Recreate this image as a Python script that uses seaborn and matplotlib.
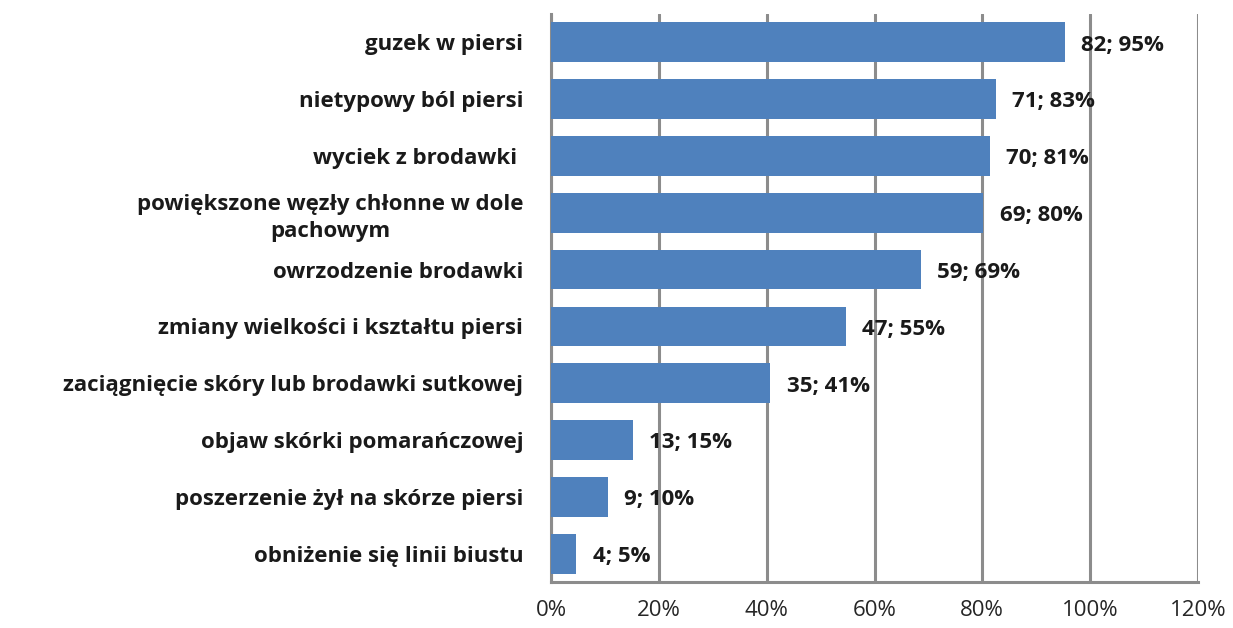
import matplotlib
matplotlib.use("Agg")
import matplotlib.pyplot as plt
import seaborn as sns
import pandas as pd
from matplotlib.ticker import PercentFormatter, FixedLocator

# Data
symptoms = [
    "guzek w piersi",
    "nietypowy ból piersi",
    "wyciek z brodawki ",
    "powiększone węzły chłonne w dole\npachowym",
    "owrzodzenie brodawki",
    "zmiany wielkości i kształtu piersi",
    "zaciągnięcie skóry lub brodawki sutkowej",
    "objaw skórki pomarańczowej",
    "poszerzenie żył na skórze piersi",
    "obniżenie się linii biustu",
]
counts = [82, 71, 70, 69, 59, 47, 35, 13, 9, 4]
percents = [95.3, 82.6, 81.4, 80.2, 68.6, 54.7, 40.7, 15.1, 10.5, 4.7]
labels = ["82; 95%", "71; 83%", "70; 81%", "69; 80%", "59; 69%",
          "47; 55%", "35; 41%", "13; 15%", "9; 10%", "4; 5%"]

df = pd.DataFrame({"objaw": symptoms, "n": counts, "pct": percents})

sns.set_style("white")
plt.rcParams["font.family"] = ["Open Sans", "DejaVu Sans"]

fig = plt.figure(figsize=(12.33, 6.28), dpi=100)
ax = fig.add_axes([0.447, 0.073, 0.5245, 0.905])

sns.barplot(data=df, x="pct", y="objaw", color="#4F81BD", saturation=1,
            width=0.7, linewidth=0, ax=ax, zorder=3)

ax.set_xlim(0, 120)
ax.xaxis.set_major_locator(FixedLocator(range(0, 121, 20)))
ax.xaxis.set_major_formatter(PercentFormatter(decimals=0))
ax.grid(axis="x", color="#8c8c8c", linewidth=2.2, zorder=0)
ax.set_axisbelow(True)
ax.set_xlabel("")
ax.set_ylabel("")

# value labels
for i, (p, lab) in enumerate(zip(percents, labels)):
    ax.text(p + 3.0, i + 0.05, lab, va="center", ha="left",
            fontsize=16, fontweight="bold", color="#1a1a1a", zorder=5)

for s in ["top", "right"]:
    ax.spines[s].set_visible(False)
for s in ["left", "bottom"]:
    ax.spines[s].set_color("#8c8c8c")
    ax.spines[s].set_linewidth(2.2)

# y tick marks at category boundaries
ax.set_yticks(range(len(symptoms)))
ax.set_yticklabels(symptoms, fontsize=16, fontweight="bold", color="#1a1a1a",
                   ha="right", multialignment="center", linespacing=1.35)
ax.tick_params(axis="y", length=0, pad=20)
ax.set_yticks([i - 0.5 for i in range(len(symptoms) + 1)], minor=True)
ax.tick_params(axis="y", which="minor", length=7, width=2.2, color="#8c8c8c",
               direction="out")
ax.set_ylim(len(symptoms) - 0.5, -0.5)

ax.tick_params(axis="x", length=7, width=2.2, color="#8c8c8c", direction="out",
               labelsize=16, labelcolor="#262626", pad=6)

fig.savefig("out.png", dpi=100)
